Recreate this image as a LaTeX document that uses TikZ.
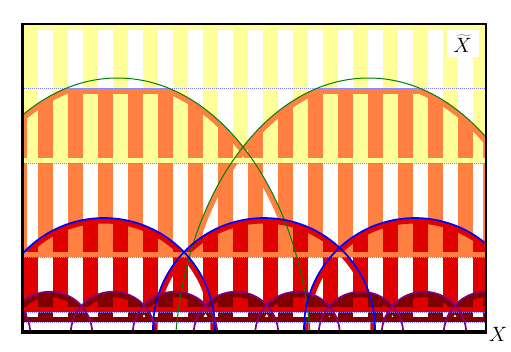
\documentclass[tikz,border=0pt]{standalone}
\definecolor{cyel}{RGB}{255,255,153}
\definecolor{corg}{RGB}{255,128,64}
\definecolor{cred}{RGB}{224,0,0}
\definecolor{cdrk}{RGB}{128,0,0}
\definecolor{cdot}{RGB}{128,128,255}
\definecolor{cgrn}{RGB}{0,128,0}
\definecolor{cpur}{RGB}{128,0,128}
\newcommand\stripesA[3]{%
  \foreach \k in {0,...,14} \fill[#1] ({38+30*\k},#2) rectangle ({53+30*\k},#3);}
\newcommand\stripesB[3]{%
  \begin{scope}\clip (27,0) rectangle (483,351);
  \foreach \k in {0,...,15} \fill[#1] ({23+30*\k},#2) rectangle ({38+30*\k},#3);
  \end{scope}}
\tikzset{
  dotline/.style={cdot, densely dotted, line width=1},
  greenarc/.style={cgrn, line width=1},
  bluearc/.style={blue, line width=1.7},
  purparc/.style={cpur, line width=1.7},
  lbl/.style={inner sep=0, font=\fontsize{20}{24}\selectfont}
}
\begin{document}
\begin{tikzpicture}[x=1pt,y=-1pt]
\useasboundingbox (0,0) rectangle (511,351);
% layer 1
\fill[cyel] (24,24) rectangle (485,163);
\stripesA{white}{30}{158}
% layer 2 base
\fill[corg] (24,163) rectangle (485,257);
% green sheets
\foreach \c in {117.5,368.5}{
  \begin{scope}
    \clip (\c,368) ellipse [x radius=194, y radius=290];
    \clip (24,88) rectangle (485,257);
    \fill[corg] (0,0) rectangle (511,351);
    \stripesB{cyel}{88}{158}
    \stripesB{white}{163}{252}
  \end{scope}}
\foreach \c in {117.5,368.5}{
  \begin{scope}
    \clip (\c,368) ellipse [x radius=194, y radius=290];
    \clip (24,88) rectangle (485,257);
    \draw[corg, line width=11] (\c,368) ellipse [x radius=194, y radius=290];
    \fill[corg] (0,88) rectangle (511,94);
  \end{scope}}
\fill[cyel] (24,158) rectangle (485,163);
% blue sheets
\foreach \c in {104,264,415}{
  \begin{scope}
    \clip (\c,329) circle [radius=111];
    \clip (24,0) rectangle (485,312);
    \fill[cred] (0,0) rectangle (511,351);
    \stripesA{corg}{163}{252}
    \stripesA{white}{257}{307}
  \end{scope}}
\foreach \c in {104,264,415}{
  \begin{scope}
    \clip (\c,329) circle [radius=111];
    \clip (24,0) rectangle (485,312);
    \draw[cred, line width=11] (\c,329) circle [radius=111];
  \end{scope}}
\fill[corg] (24,252) rectangle (485,257);
% purple sheets
\foreach \c in {-12,50,113,175,236,297.5,361,424,486}{
  \begin{scope}
    \clip (\c,334) circle [radius=42.3];
    \clip (24,0) rectangle (485,322);
    \fill[cdrk] (0,0) rectangle (511,351);
    \stripesB{cred}{257}{307}
    \stripesB{white}{312}{317}
  \end{scope}}
\foreach \c in {-12,50,113,175,236,297.5,361,424,486}{
  \begin{scope}
    \clip (\c,334) circle [radius=42.3];
    \clip (24,0) rectangle (485,322);
    \draw[cdrk, line width=11] (\c,334) circle [radius=42.3];
  \end{scope}}
\fill[cred] (24,307) rectangle (485,312);
\fill[white] (24,322) rectangle (485,331);
% red bands of the blue sheets near their feet
\foreach \c in {104,264,415}{
  \begin{scope}
    \clip (\c,329) circle [radius=111];
    \clip (24,322) rectangle (485,331);
    \draw[cred, line width=9] (\c,329) circle [radius=111];
  \end{scope}}
% dotted level lines
\foreach \y in {88.3,163.3,257.3,312.3,322.3}
  \draw[dotline] (24,\y) -- (485,\y);
% arcs
\begin{scope}
  \clip (24,24) rectangle (485,330);
  \foreach \c in {117.5,368.5}
    \draw[greenarc] (\c,368) ellipse [x radius=194, y radius=290];
  \foreach \c in {104,264,415}
    \draw[bluearc] (\c,329) circle [radius=111];
  \foreach \c in {-12,50,113,175,236,297.5,361,424,486}
    \draw[purparc] (\c,334) circle [radius=42.3];
\end{scope}
% frame
\draw[line width=2] (22.5,24) rectangle (486,331.5);
\draw[line width=3] (22.5,23) -- (22.5,333.5);
\draw[line width=4] (21,331.5) -- (487.2,331.5);
% labels
\node[lbl, fill=white, minimum width=32, minimum height=27] (xt) at (462.5,43.7) {$\widetilde{X}$};
\node[lbl] (xb) at (498,334) {$X$};
\end{tikzpicture}
\end{document}
